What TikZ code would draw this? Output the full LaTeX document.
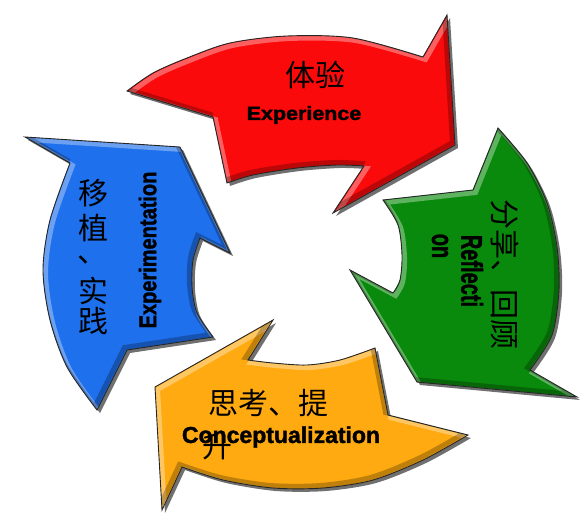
\documentclass[tikz,border=0pt]{standalone}
\usepackage{fontspec}
\usepackage{graphicx}
\setmainfont{Liberation Sans}
\newfontfamily\heavyfont[BoldFeatures={FakeBold=1.6}]{Liberation Sans}
\newfontfamily\cjk{Noto Sans CJK SC}

\definecolor{expred}{RGB}{250,10,10}
\definecolor{refgreen}{RGB}{10,138,12}
\definecolor{conorange}{RGB}{255,170,16}
\definecolor{impblue}{RGB}{30,112,236}

% outlines of the four curved arrows (pixel units, y down)
\newcommand{\redarrow}{plot[smooth] coordinates {(127,91) (153,73) (187,58) (230,43) (287,36) (353,38) (423,57)}
  -- (447,15) -- (455,145) -- (333,213) -- (364,166)
  -- plot[smooth] coordinates {(364,166) (337,165) (297,168) (253,175) (227,183)}
  -- (213,117) -- cycle}
\newcommand{\greenarrow}{plot[smooth] coordinates {(498,128) (527,163) (547,203) (557,247) (559,290) (552,335) (530,370)}
  -- (577,397) -- (417,382) -- (350,270) -- (393,293)
  -- plot[smooth] coordinates {(393,293) (400,280) (402,255) (398,225) (383,200)}
  -- (473,190) -- cycle}
\newcommand{\orangearrow}{plot[smooth] coordinates {(182,467) (223,480) (273,488) (323,488) (373,480) (423,460) (468,435)}
  -- (388,415) -- (375,348)
  -- plot[smooth] coordinates {(375,348) (340,360) (307,365) (273,363) (248,360)}
  -- (273,320) -- (155,387) -- (162,510) -- cycle}
\newcommand{\bluearrow}{plot[smooth] coordinates {(70,163) (50,220) (43,270) (50,320) (67,367) (97,410)}
  -- (127,350) -- (213,337)
  -- plot[smooth] coordinates {(213,337) (197,313) (192,287) (193,260) (200,238)}
  -- (230,253) -- (180,147) -- (25,137) -- cycle}

\newcommand{\arrowpiece}[2]{%
  \fill[shadowfill, shift={(3,3)}] #1;
  \fill[#2] #1;
  \begin{scope}
    \clip #1;
    \draw[hilite, shift={(2.5,2.5)}] #1;
    \draw[lowlite, shift={(-2.5,-2.5)}] #1;
  \end{scope}
  \draw[outline] #1;
}

\begin{document}
\begin{tikzpicture}[
    x=1pt, y=-1pt,
    shadowfill/.style={fill=black!70, opacity=0.8},
    hilite/.style={draw=white, line width=5pt, opacity=0.35},
    lowlite/.style={draw=black, line width=5pt, opacity=0.25},
    outline/.style={draw=black!85, line width=0.9pt},
    cntext/.style={font=\cjk\fontsize{30}{30.5}\selectfont, inner sep=0pt},
    entext/.style={font=\heavyfont\bfseries\fontsize{20}{22}\selectfont, inner sep=0pt}
  ]
  \useasboundingbox (0,0) rectangle (586,522);

  % Arrows
  \arrowpiece{\bluearrow}{impblue}
  \arrowpiece{\redarrow}{expred}
  \arrowpiece{\greenarrow}{refgreen}
  \arrowpiece{\orangearrow}{conorange}

  % Experience
  \node[cntext] (expcn) at (315,75) {体验};
  \node[entext, font=\heavyfont\bfseries\fontsize{19}{21}\selectfont] (expen) at (304,115) {\scalebox{1.13}[1]{Experience}};

  % Reflection
  \node[cntext, rotate=-90] (refcn) at (505,274) {分享、回顾};
  \node[entext, rotate=-90] (refen) at (472,271) {\scalebox{1}[1.5]{Reflecti}};
  \node[entext, rotate=-90] (refon) at (440,246) {\scalebox{1}[1.5]{on}};

  % Conceptualization
  \node[cntext] (concn) at (268,403) {思考、提};
  \node[cntext] (concnb) at (217,446) {升};
  \node[entext, font=\heavyfont\bfseries\fontsize{23}{25}\selectfont] (conen) at (281,437) {Conceptualization};

  % Experimentation
  \foreach \ch/\yy/\xx [count=\i] in {移/193/93, 植/228/93, 、/260/92, 实/291/93, 践/321/93}
    \node[cntext] (impcn\i) at (\xx,\yy) {\ch};
  \node[entext, rotate=90] (impen) at (150,250) {\scalebox{1}[1.2]{Experimentation}};

\end{tikzpicture}
\end{document}
